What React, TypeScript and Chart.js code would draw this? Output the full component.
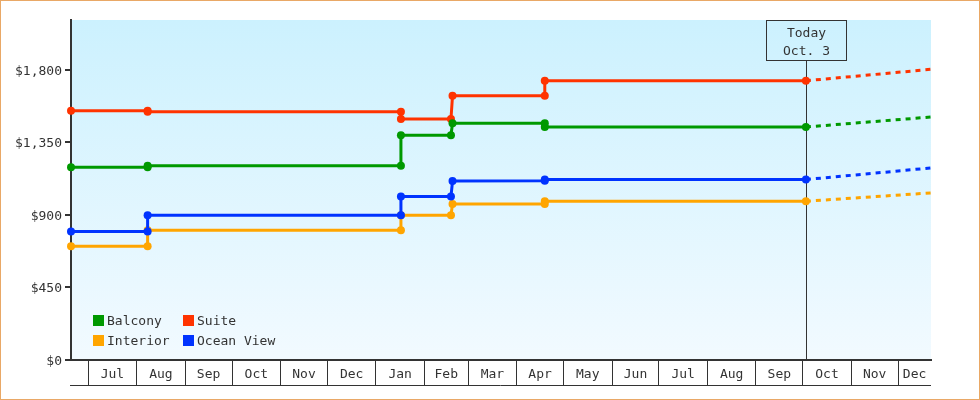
import React, { useEffect, useRef } from 'react';
import { Chart, registerables } from 'chart.js';

Chart.register(...registerables);

// ---------- data ----------
const dates = [
  '2022-06-20', '2022-08-08', '2022-08-08', '2023-01-17', '2023-01-17',
  '2023-02-18', '2023-02-19', '2023-04-19', '2023-04-19', '2023-10-03', '2023-12-22',
];
const balcony = [1196, 1196, 1206, 1206, 1395, 1395, 1469, 1469, 1446, 1446, 1508];
const suite = [1547, 1547, 1540, 1540, 1495, 1495, 1640, 1640, 1733, 1733, 1804];
const interior = [706, 706, 805, 805, 898, 898, 968, 968, 985, 985, 1037];
const oceanView = [798, 798, 898, 898, 1014, 1014, 1111, 1113, 1120, 1120, 1192];

const seriesNames = ['Balcony', 'Suite', 'Interior', 'Ocean View'];
const seriesColors = ['#009900', '#ff3300', '#ffa500', '#0033ff'];

const monthStarts = [
  '2022-07-01', '2022-08-01', '2022-09-01', '2022-10-01', '2022-11-01', '2022-12-01',
  '2023-01-01', '2023-02-01', '2023-03-01', '2023-04-01', '2023-05-01', '2023-06-01',
  '2023-07-01', '2023-08-01', '2023-09-01', '2023-10-01', '2023-11-01', '2023-12-01',
];
const monthLabels = [
  'Jul', 'Aug', 'Sep', 'Oct', 'Nov', 'Dec', 'Jan', 'Feb', 'Mar',
  'Apr', 'May', 'Jun', 'Jul', 'Aug', 'Sep', 'Oct', 'Nov', 'Dec',
];
const yTicks = [0, 450, 900, 1350, 1800];
const yMax = 2110;
const rangeStart = '2022-06-20';
const rangeEnd = '2023-12-22';
const today = '2023-10-03';
const todayText = ['Today', 'Oct. 3'];

// ---------- helpers ----------
const FONT = '"DejaVu Sans Mono", "Liberation Mono", monospace';
const TEXT = '#333333';

function dayNum(s: string): number {
  const [y, m, d] = s.split('-').map(Number);
  return (Date.UTC(y, m - 1, d) - Date.UTC(2022, 5, 20)) / 86400000;
}

const xMin = dayNum(rangeStart);
const xMax = dayNum(rangeEnd);
const boundaries = monthStarts.map(dayNum);
const labelMap = new Map<number, string>();
boundaries.forEach((b, i) => {
  const next = i + 1 < boundaries.length ? boundaries[i + 1] : xMax;
  labelMap.set((b + Math.min(next, xMax)) / 2, monthLabels[i]);
});
const boundarySet = new Set(boundaries);
const xTickValues = [...boundaries, ...Array.from(labelMap.keys())].sort((a, b) => a - b);
const todayIdx = dates.indexOf(today);

const bgPlugin = {
  id: 'plotBg',
  beforeDraw(chart: any) {
    const { ctx, chartArea: a } = chart;
    const g = ctx.createLinearGradient(0, a.top, 0, a.bottom);
    g.addColorStop(0, '#ccf1fe');
    g.addColorStop(1, '#f2faff');
    ctx.save();
    ctx.fillStyle = g;
    ctx.fillRect(a.left, a.top, a.right - a.left, a.bottom - a.top);
    ctx.restore();
  },
};

const todayPlugin = {
  id: 'todayMarker',
  beforeDatasetsDraw(chart: any) {
    const { ctx, chartArea: a, scales } = chart;
    const x = Math.round(scales.x.getPixelForValue(dayNum(today))) + 0.5;
    const w = 80;
    const h = 40;
    ctx.save();
    ctx.strokeStyle = TEXT;
    ctx.lineWidth = 1;
    ctx.strokeRect(x - w / 2, a.top + 0.5, w, h);
    ctx.beginPath();
    ctx.moveTo(x, a.top + h + 0.5);
    ctx.lineTo(x, a.bottom);
    ctx.stroke();
    ctx.fillStyle = TEXT;
    ctx.font = `13px ${FONT}`;
    ctx.textAlign = 'center';
    ctx.textBaseline = 'middle';
    ctx.fillText(todayText[0], x, a.top + 13.5);
    ctx.fillText(todayText[1], x, a.top + 31.5);
    ctx.restore();
  },
};

const framePlugin = {
  id: 'axisFrame',
  afterDraw(chart: any) {
    const { ctx, chartArea: a, scales } = chart;
    const y = a.bottom + 25.5;
    ctx.save();
    ctx.strokeStyle = TEXT;
    ctx.lineWidth = 1;
    ctx.beginPath();
    ctx.moveTo(scales.x.left - 1, y);
    ctx.lineTo(scales.x.right, y);
    ctx.stroke();
    ctx.restore();
  },
};

const legendPlugin = {
  id: 'insideLegend',
  afterDraw(chart: any) {
    const { ctx, chartArea: a } = chart;
    ctx.save();
    ctx.font = `13px ${FONT}`;
    ctx.textAlign = 'left';
    ctx.textBaseline = 'middle';
    chart.data.datasets.forEach((ds: any, i: number) => {
      const col = i % 2;
      const row = Math.floor(i / 2);
      const bx = a.left + 22 + col * 90;
      const by = a.bottom - 45 + row * 20;
      ctx.fillStyle = ds.borderColor;
      ctx.fillRect(bx, by, 11, 11);
      ctx.fillStyle = TEXT;
      ctx.fillText(ds.label, bx + 14, by + 6.5);
    });
    ctx.restore();
  },
};

export default function App() {
  const ref = useRef<HTMLCanvasElement | null>(null);

  useEffect(() => {
    document.body.style.margin = '0';
    if (!ref.current) return;
    const xs = dates.map(dayNum);
    const seriesValues = [balcony, suite, interior, oceanView];
    const drawOrder = [2, 3, 1, 0];
    const chart = new Chart(ref.current, {
      type: 'line',
      data: {
        datasets: seriesValues.map((vals, si) => ({
          label: seriesNames[si],
          data: vals.map((v, i) => ({ x: xs[i], y: v })),
          borderColor: seriesColors[si],
          backgroundColor: seriesColors[si],
          borderWidth: 3,
          tension: 0,
          fill: false,
          clip: false,
          order: drawOrder[si],
          pointRadius: (c: any) => (c.dataIndex === dates.length - 1 ? 0 : 4),
          pointBorderWidth: 0,
          pointHoverRadius: 0,
          segment: {
            borderDash: (c: any) => (c.p0DataIndex >= todayIdx ? [5, 5] : undefined),
          },
        })),
      },
      options: {
        responsive: false,
        animation: false,
        events: [],
        layout: { padding: { top: 19, right: 48, left: 0, bottom: 0 } },
        plugins: { legend: { display: false }, tooltip: { enabled: false } },
        scales: {
          x: {
            type: 'linear',
            position: 'bottom',
            min: xMin,
            max: xMax,
            afterBuildTicks: (scale: any) => {
              scale.ticks = xTickValues.map((v) => ({ value: v }));
            },
            afterFit: (scale: any) => {
              scale.height = 39;
            },
            border: { display: true, color: TEXT, width: 2 },
            grid: {
              drawOnChartArea: false,
              drawTicks: true,
              tickLength: 25,
              lineWidth: 1,
              color: (c: any) => (c.tick && boundarySet.has(c.tick.value) ? TEXT : 'rgba(0,0,0,0)'),
              tickColor: (c: any) => (c.tick && boundarySet.has(c.tick.value) ? TEXT : 'rgba(0,0,0,0)'),
            },
            ticks: {
              autoSkip: false,
              maxRotation: 0,
              minRotation: 0,
              padding: -18,
              color: TEXT,
              font: { family: FONT, size: 13 },
              callback: (v: any) => labelMap.get(Number(v)) ?? '',
            },
          },
          y: {
            type: 'linear',
            min: 0,
            max: yMax,
            afterBuildTicks: (scale: any) => {
              scale.ticks = yTicks.map((v) => ({ value: v }));
            },
            afterFit: (scale: any) => {
              scale.width = 70;
            },
            border: { display: true, color: TEXT, width: 2 },
            grid: {
              drawOnChartArea: false,
              drawTicks: true,
              tickLength: 6,
              lineWidth: 2,
              color: TEXT,
              tickColor: TEXT,
            },
            ticks: {
              padding: 3,
              labelOffset: 1.5,
              color: TEXT,
              font: { family: FONT, size: 13 },
              callback: (v: any) => '$' + Number(v).toLocaleString('en-US'),
            },
          },
        },
      },
      plugins: [bgPlugin, todayPlugin, framePlugin, legendPlugin],
    } as any);
    return () => chart.destroy();
  }, []);

  return (
    <div
      style={{
        width: 980,
        height: 400,
        boxSizing: 'border-box',
        border: '1px solid #e9a866',
        background: '#ffffff',
      }}
    >
      <canvas ref={ref} width={978} height={398} style={{ display: 'block', width: 978, height: 398 }} />
    </div>
  );
}
